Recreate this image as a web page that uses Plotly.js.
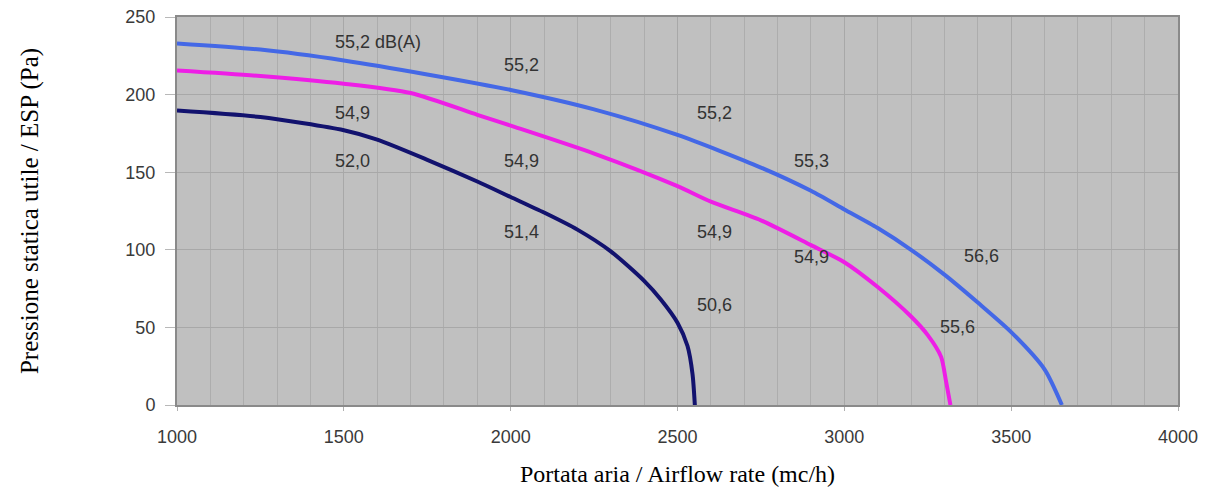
<!DOCTYPE html>
<html>
<head>
<meta charset="utf-8">
<script src="https://cdn.plot.ly/plotly-3.0.1.min.js"></script>
<style>html,body{margin:0;padding:0;background:#fff;}#chart{width:1209px;height:498px;}</style>
</head>
<body>
<div id="chart"></div>
<script>
// Curve 1 (light blue)
const blueX = [1000, 1250, 1500, 1750, 2000, 2250, 2500, 2750, 2900, 3000, 3100, 3200, 3300, 3400, 3500, 3600, 3652];
const blueY = [233, 229, 222, 213, 203, 190.5, 174, 153, 138, 126, 114, 100, 84, 66, 47, 23, 0];
// Curve 2 (magenta)
const magX = [1000, 1250, 1500, 1700, 1900, 2000, 2250, 2500, 2600, 2750, 2900, 3000, 3100, 3200, 3250, 3290, 3305, 3318];
const magY = [215.5, 212, 207, 201, 187, 180, 162, 141, 131, 119, 103, 92, 76, 57, 45, 31, 15, 0];
// Curve 3 (navy)
const navyX = [1000, 1250, 1500, 1600, 1750, 1900, 2000, 2100, 2200, 2300, 2400, 2450, 2500, 2530, 2545, 2552];
const navyY = [189.7, 185.5, 177, 171, 158, 144, 134, 124, 113, 99, 80, 68, 53, 38, 20, 0];

// Noise level labels (dB(A))
const labelText = ["55,2 dB(A)", "55,2", "55,2", "55,3", "56,6", "54,9", "54,9", "54,9", "54,9", "55,6", "52,0", "51,4", "50,6"];
const labelX = [1467, 1974, 2552, 2843, 3352, 1467, 1974, 2552, 2843, 3281, 1467, 1974, 2552];
const labelY = [234, 219, 188, 157, 96, 188, 157, 111.6, 95.5, 50, 157, 111.6, 64.5];

const xTicks = [1000, 1500, 2000, 2500, 3000, 3500, 4000];
const yTicks = [0, 50, 100, 150, 200, 250];

const mk = (x, y, color) => ({
  x: x, y: y, type: 'scatter', mode: 'lines',
  line: {color: color, width: 4, shape: 'spline', smoothing: 0.7},
  hoverinfo: 'skip', showlegend: false
});

const traces = [
  mk(blueX, blueY, '#4468e6'),
  mk(magX, magY, '#ee1ee6'),
  mk(navyX, navyY, '#12126e')
];

const annotations = labelText.map((t, i) => ({
  x: labelX[i], y: labelY[i], xref: 'x', yref: 'y', text: t,
  showarrow: false, xanchor: 'left', yanchor: 'middle',
  font: {family: 'Liberation Sans, Arial, sans-serif', size: 18, color: '#333333'}
}));

const layout = {
  width: 1209, height: 498,
  margin: {l: 177, r: 31, t: 17, b: 93},
  paper_bgcolor: '#ffffff',
  plot_bgcolor: '#c0c0c0',
  showlegend: false,
  xaxis: {
    range: [1000, 4000], tickvals: xTicks, ticktext: xTicks.map(String),
    showgrid: true, gridcolor: '#a8a8a8', gridwidth: 1,
    minor: {dtick: 100, tick0: 1000, showgrid: true, gridcolor: '#adadad', gridwidth: 1},
    zeroline: false, showline: true, linecolor: '#8a8a8a', linewidth: 2, mirror: true,
    ticks: 'outside', ticklen: 4, tickcolor: '#b0b0b0', ticklabelstandoff: 10,
    tickfont: {family: 'Liberation Sans, Arial, sans-serif', size: 18, color: '#3a3a3a'},
    title: {text: 'Portata aria / Airflow rate (mc/h)', standoff: 20,
      font: {family: 'Liberation Serif, Times New Roman, serif', size: 24, color: '#000'}}
  },
  yaxis: {
    range: [0, 250], tickvals: yTicks, ticktext: yTicks.map(String),
    showgrid: true, gridcolor: '#a8a8a8', gridwidth: 1,
    zeroline: false, showline: true, linecolor: '#8a8a8a', linewidth: 2, mirror: true,
    ticks: 'outside', ticklen: 10, tickcolor: '#b8b8b8', ticklabelstandoff: 6,
    tickfont: {family: 'Liberation Sans, Arial, sans-serif', size: 18, color: '#3a3a3a'},
    title: {text: 'Pressione statica utile / ESP (Pa)', standoff: 80,
      font: {family: 'Liberation Serif, Times New Roman, serif', size: 25, color: '#000'}}
  },
  annotations: annotations
};

Plotly.newPlot('chart', traces, layout, {displayModeBar: false, staticPlot: true});
</script>
</body>
</html>
